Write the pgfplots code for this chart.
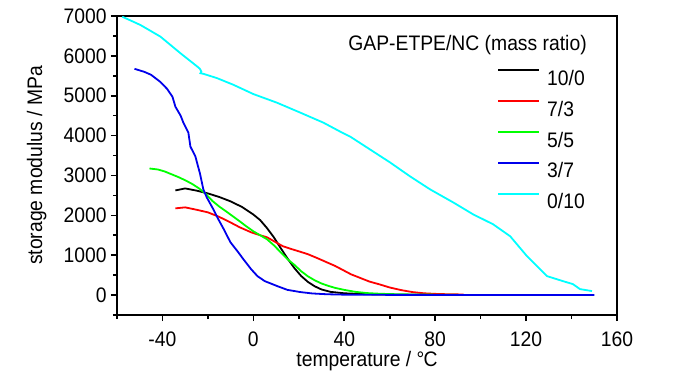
\documentclass[border=0pt]{standalone}
\usepackage{fontspec}
\setmainfont{Liberation Sans}[FakeStretch=0.92]
\usepackage{pgfplots}
\pgfplotsset{compat=1.18}
\definecolor{cy}{RGB}{0,255,255}
\definecolor{gr}{RGB}{0,255,0}
\definecolor{bl}{RGB}{0,0,235}
\definecolor{rd}{RGB}{255,0,0}
\begin{document}
\fontsize{10.5}{12}\selectfont
\begin{tikzpicture}
\path[use as bounding box] (0,0) rectangle (350pt,187pt);
\begin{axis}[
  at={(58.5pt,29.5pt)}, anchor=south west,
  scale only axis, width=250pt, height=149.5pt,
  xmin=-60, xmax=160, ymin=-500, ymax=7000,
  xtick={-40,0,...,160}, minor xtick={-60,-20,...,140},
  ytick={0,1000,...,7000}, minor ytick={-500,500,...,6500},
  xtick pos=bottom, ytick pos=left,
  tick align=outside,
  major tick length=3pt, minor tick length=2pt,
  tick style={black, line width=0.8pt},
  axis line style={line width=1pt},
  /pgf/number format/assume math mode=true,
  /pgf/number format/1000 sep={},
  xticklabel style={inner sep=0pt, anchor=north, yshift=-5pt},
  yticklabel style={inner sep=0pt, anchor=east, xshift=-2pt},
  xlabel={temperature / °\kern-0.04em C},
  ylabel={storage modulus / MPa},
  xlabel style={at={(axis description cs:0.5,0)}, anchor=north, inner sep=0pt, yshift=-18pt},
  ylabel style={at={(axis description cs:0,0.5)}, anchor=south, inner sep=0pt, yshift=35pt},
  legend style={at={(axis description cs:0.76,0.823)}, anchor=north west, draw=none, fill=none,
    inner sep=0pt, row sep=7.5pt, column sep=3.5pt,
    nodes={inner sep=0pt, text height=7.5pt, text depth=0pt}},
  legend cell align=left,
  legend image code/.code={\draw[#1] (0pt,3.75pt) -- (20.5pt,3.75pt);},
  every axis plot/.append style={line width=0.9pt},
]
\addplot[black] coordinates {
(-34.3,2625) (-30,2675) (-25,2620) (-20,2550) (-15,2460) (-10,2350) (-5,2210) (0,2020)
(3,1880) (6,1680) (9,1450) (12,1180) (15,920) (18,680) (21,480) (24,330) (27,220)
(30,140) (34,80) (40,45) (50,20) (60,10) (70,5) (80,3)};
\addlegendentry{10/0}
\addplot[rd] coordinates {
(-34.3,2175) (-30,2200) (-25,2140) (-20,2075) (-15,1960) (-11,1850) (-6,1700) (-1,1575)
(3,1500) (6,1450) (10,1320) (13,1225) (17,1150) (21,1080) (24,1025) (28,930) (32,830)
(36,730) (40,610) (43,520) (47,430) (51,340) (56,260) (60,190) (65,125) (70,75)
(75,45) (80,30) (86,20) (92.5,15)};
\addlegendentry{7/3}
\addplot[gr] coordinates {
(-45.7,3175) (-42,3150) (-39,3100) (-36,3030) (-33,2960) (-30,2880) (-27,2790) (-24,2680)
(-21,2540) (-18,2360) (-15,2220) (-12,2100) (-9,1975) (-6,1850) (-3,1720) (0,1600)
(3,1500) (6,1400) (9,1250) (12,1075) (15,900) (18,760) (21,600) (24,470) (27,370)
(30,290) (33,230) (36,180) (40,130) (45,80) (50,50) (55,35) (60,25) (70,15) (80,10) (90,5)};
\addlegendentry{5/5}
\addplot[bl] coordinates {
(-52.3,5675) (-48,5600) (-45,5525) (-41,5350) (-38,5175) (-35.6,4975) (-34.3,4725)
(-32,4500) (-30.8,4325) (-28.6,4075) (-27.7,3725) (-25.5,3475) (-23.5,3050) (-22,2650)
(-20.5,2450) (-17.6,2150) (-15.4,1900) (-13,1650) (-10.1,1325) (-7,1100) (-4.4,900)
(-1,650) (1.8,475) (5,350) (10.5,225) (15,130) (20.7,75) (26,40) (32.5,20) (40,10)
(60,5) (100,3) (150,3)};
\addlegendentry{3/7}
\addplot[cy] coordinates {
(-57.7,6983) (-49.7,6775) (-40.9,6483) (-32.1,6067) (-24.7,5733) (-23.6,5680)
(-22.9,5610) (-23.3,5565) (-22,5550) (-16,5442) (-8.8,5275) (0,5042) (10.4,4825)
(20.7,4575) (30.8,4325) (38.2,4100) (42.6,3975) (51.4,3650) (60.2,3325) (69,2975)
(77.8,2650) (87.9,2325) (96.7,2025) (105.5,1775) (113,1475) (120.4,975) (129.2,475)
(136.2,350) (140.6,275) (143.7,150) (149,100)};
\addlegendentry{0/10}
\node[anchor=base west, inner sep=0pt] at (axis description cs:0.462,0.886) {GAP-ETPE/NC (mass ratio)};
\end{axis}
\end{tikzpicture}
\end{document}
